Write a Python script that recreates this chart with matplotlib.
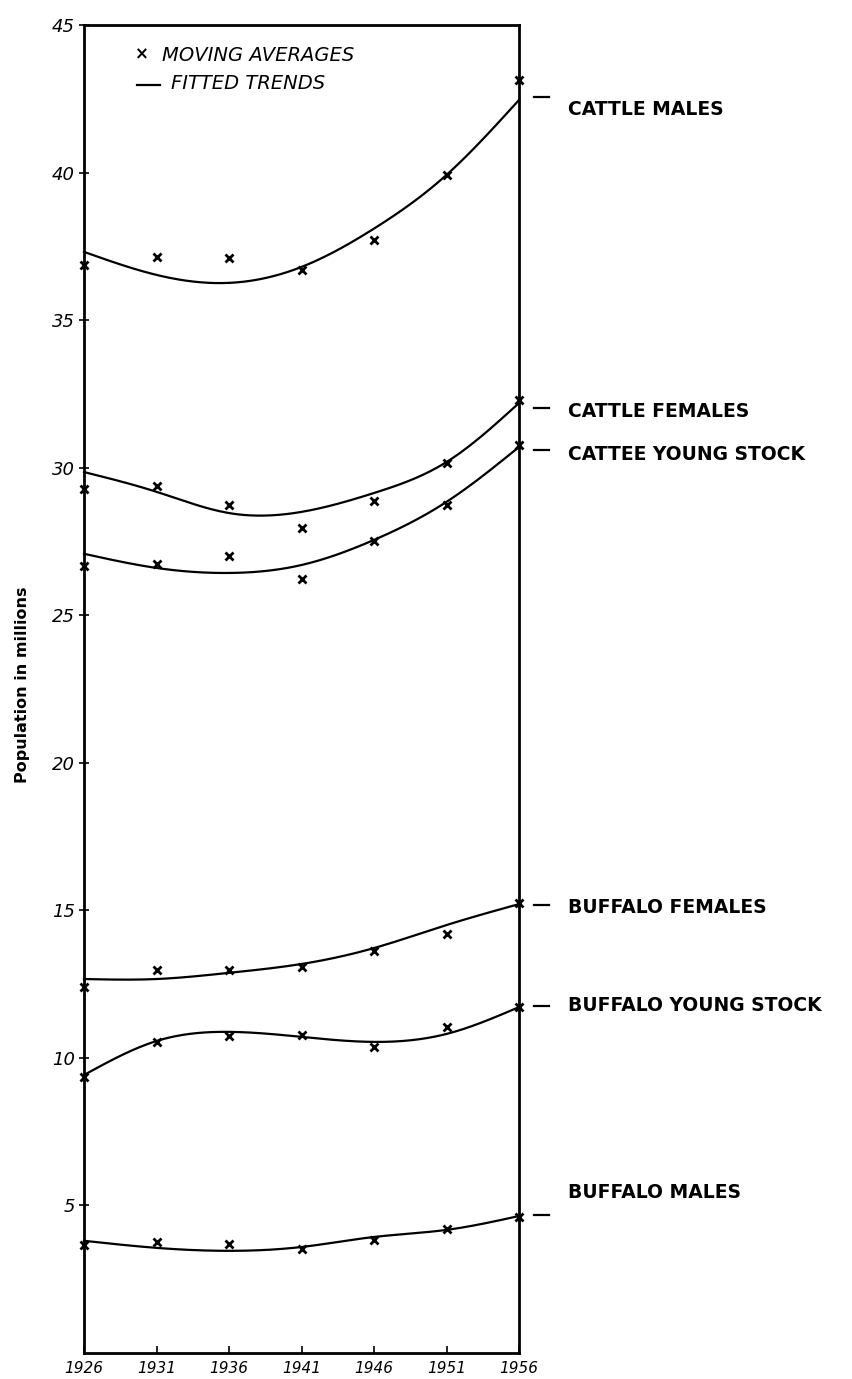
import numpy as np
import matplotlib
matplotlib.use("Agg")
import matplotlib.pyplot as plt
from matplotlib.transforms import blended_transform_factory

# Census years
years = [1926, 1931, 1936, 1941, 1946, 1951, 1956]

# Moving averages (population in millions)
cattle_males_avg = [36.87, 37.14, 37.11, 36.70, 37.72, 39.92, 43.14]
cattle_females_avg = [29.28, 29.38, 28.74, 27.96, 28.87, 30.16, 32.29]
cattle_young_avg = [26.67, 26.74, 27.01, 26.23, 27.52, 28.74, 30.77]
buffalo_females_avg = [12.40, 12.98, 12.98, 13.08, 13.62, 14.20, 15.25]
buffalo_young_avg = [9.35, 10.54, 10.74, 10.78, 10.37, 11.05, 11.72]
buffalo_males_avg = [3.66, 3.76, 3.69, 3.52, 3.83, 4.20, 4.61]

# Fitted trend values at the same years
cattle_males_trend = [37.31, 36.53, 36.26, 36.80, 38.10, 39.92, 42.46]
cattle_females_trend = [29.85, 29.18, 28.46, 28.50, 29.14, 30.19, 32.19]
cattle_young_trend = [27.08, 26.60, 26.43, 26.70, 27.55, 28.84, 30.70]
buffalo_females_trend = [12.67, 12.67, 12.88, 13.18, 13.72, 14.50, 15.21]
buffalo_young_trend = [9.42, 10.57, 10.88, 10.71, 10.54, 10.81, 11.72]
buffalo_males_trend = [3.80, 3.56, 3.46, 3.59, 3.93, 4.17, 4.64]

series_labels = ["CATTLE MALES", "CATTLE FEMALES", "CATTEE YOUNG STOCK",
                 "BUFFALO FEMALES", "BUFFALO YOUNG STOCK", "BUFFALO MALES"]

y_ticks = [5, 10, 15, 20, 25, 30, 35, 40, 45]


def smooth_curve(x, y, n=300):
    """Natural cubic spline through (x, y), evaluated on a fine grid."""
    x = np.asarray(x, float)
    y = np.asarray(y, float)
    k = len(x)
    h = np.diff(x)
    A = np.zeros((k, k))
    b = np.zeros(k)
    A[0, 0] = A[-1, -1] = 1.0
    for i in range(1, k - 1):
        A[i, i - 1] = h[i - 1]
        A[i, i] = 2 * (h[i - 1] + h[i])
        A[i, i + 1] = h[i]
        b[i] = 6 * ((y[i + 1] - y[i]) / h[i] - (y[i] - y[i - 1]) / h[i - 1])
    m = np.linalg.solve(A, b)
    xs = np.linspace(x[0], x[-1], n)
    idx = np.clip(np.searchsorted(x, xs) - 1, 0, k - 2)
    x0, x1 = x[idx], x[idx + 1]
    hh = x1 - x0
    t0, t1 = x1 - xs, xs - x0
    ys = (m[idx] * t0 ** 3 / (6 * hh) + m[idx + 1] * t1 ** 3 / (6 * hh)
          + (y[idx] / hh - m[idx] * hh / 6) * t0
          + (y[idx + 1] / hh - m[idx + 1] * hh / 6) * t1)
    return xs, ys


fig = plt.figure(figsize=(8.53, 13.79), dpi=100)
ax = fig.add_axes([0.0985, 0.0189, 0.510, 0.963])

averages = [cattle_males_avg, cattle_females_avg, cattle_young_avg,
            buffalo_females_avg, buffalo_young_avg, buffalo_males_avg]
trends = [cattle_males_trend, cattle_females_trend, cattle_young_trend,
          buffalo_females_trend, buffalo_young_trend, buffalo_males_trend]

for avg, trend in zip(averages, trends):
    xs, ys = smooth_curve(years, trend)
    ax.plot(xs, ys, color="black", lw=1.6, clip_on=False, zorder=3)
    ax.plot(years, avg, linestyle="none", marker="x", ms=6, mew=2.0,
            color="black", clip_on=False, zorder=4)

ax.set_xlim(1926, 1956)
ax.set_ylim(0, 45)

for side in ["left", "right", "top", "bottom"]:
    ax.spines[side].set_linewidth(2.0)
    ax.spines[side].set_color("black")

ax.set_xticks(years)
ax.set_xticklabels([str(y) for y in years], fontsize=11, style="italic",
                   family="DejaVu Sans")
ax.set_yticks(y_ticks)
ax.set_yticklabels([str(v) for v in y_ticks], fontsize=13, style="italic",
                   family="DejaVu Sans")
ax.tick_params(axis="x", direction="in", length=5, width=1.2, pad=6)
ax.tick_params(axis="y", direction="inout", length=7, width=1.2, pad=3)

ax.set_ylabel("Population in millions", fontsize=11.5, fontweight="bold",
              labelpad=10)
ax.yaxis.set_label_coords(-0.125, 0.503)

# Legend lettering inside the frame
ax.text(0.133, 0.978, "×", transform=ax.transAxes, fontsize=12,
        fontweight="bold", ha="center", va="center")
ax.text(0.18, 0.977, "MOVING AVERAGES", transform=ax.transAxes,
        fontsize=14, style="italic", ha="left", va="center")
ax.plot([0.122, 0.175], [0.955, 0.955], color="black", lw=1.6,
        transform=ax.transAxes)
ax.text(0.2, 0.956, "FITTED TRENDS", transform=ax.transAxes,
        fontsize=14, style="italic", ha="left", va="center")

# Series names to the right of the frame
trans = blended_transform_factory(ax.transAxes, ax.transData)
label_text_y = [42.12, 31.89, 30.43, 15.11, 11.79, 5.42]
label_dash_y = [42.56, 32.02, 30.60, 15.18, 11.76, 4.68]
for name, ty, dy in zip(series_labels, label_text_y, label_dash_y):
    ax.plot([1.035, 1.068], [dy, dy], color="black", lw=1.6,
            transform=trans, clip_on=False)
    ax.text(1.113, ty, name, transform=trans, fontsize=13.5,
            fontweight="semibold", ha="left", va="center")

fig.savefig("out.png", dpi=100, facecolor="white")
